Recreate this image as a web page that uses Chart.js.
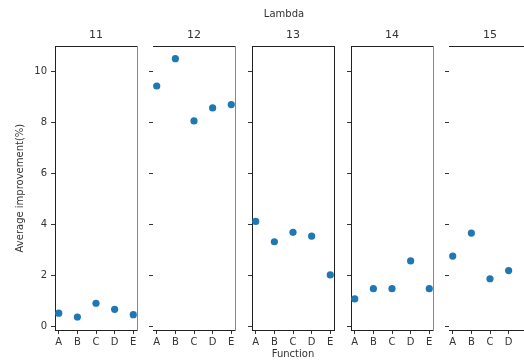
<!DOCTYPE html>
<html>
<head>
<meta charset="utf-8">
<script src="https://cdn.jsdelivr.net/npm/chart.js@4.4.1/dist/chart.umd.min.js"></script>
<style>
  html, body { margin: 0; padding: 0; background: #fff; overflow: hidden; }
  #wrap { position: relative; width: 524px; height: 360px; overflow: hidden; }
  .panel { position: absolute; top: 0; height: 360px; }
</style>
</head>
<body>
<div id="wrap"></div>
<script>
// Data
const lambdas = ['11', '12', '13', '14', '15'];
const functions = ['A', 'B', 'C', 'D', 'E'];
const yTicks = [0, 2, 4, 6, 8, 10];

const lambda11 = [0.53, 0.38, 0.92, 0.68, 0.47];
const lambda12 = [9.44, 10.51, 8.07, 8.58, 8.71];
const lambda13 = [4.13, 3.33, 3.70, 3.55, 2.03];
const lambda14 = [1.09, 1.49, 1.49, 2.58, 1.49];
const lambda15 = [2.77, 3.67, 1.88, 2.20];
const panelValues = [lambda11, lambda12, lambda13, lambda14, lambda15];

// Panel layout (plot area left edges, width)
const panelLeft = [55, 153, 252, 351, 449];
const panelWidth = 82;
const leftAxisW = [55, 10, 28, 10, 10];
const rightAxisW = [8, 8, 10, 8, 8];
const leftSpine = [true, false, true, true, false];
const rightSpine = ['dash', 'dash', 'solid', 'dash', 'none'];

Chart.defaults.font.family = 'DejaVu Sans';
Chart.defaults.font.size = 10;
Chart.defaults.color = '#333';

const wrap = document.getElementById('wrap');

lambdas.forEach((lam, i) => {
    const vals = panelValues[i];
    const lw = leftAxisW[i];
    const rw = rightAxisW[i];
    const div = document.createElement('div');
    div.className = 'panel';
    div.style.left = (panelLeft[i] - lw) + 'px';
    div.style.width = (lw + panelWidth + rw) + 'px';
    const canvas = document.createElement('canvas');
    canvas.width = lw + panelWidth + rw;
    canvas.height = 360;
    div.appendChild(canvas);
    wrap.appendChild(div);

    const middle = i === 2;

    new Chart(canvas, {
        type: 'scatter',
        data: {
            datasets: [{
                data: vals.map((v, j) => ({ x: j, y: v })),
                backgroundColor: '#1f77b4',
                borderColor: '#1f77b4',
                borderWidth: 0,
                pointRadius: 3.6,
                pointHoverRadius: 3.6
            }]
        },
        options: {
            responsive: false,
            animation: false,
            events: [],
            layout: { padding: 0 },
            plugins: {
                legend: { display: false },
                tooltip: { enabled: false },
                // the middle panel carries the figure title, its lambda goes in the subtitle
                title: {
                    display: true,
                    text: middle ? 'Lambda' : lam,
                    fullSize: middle,
                    color: '#333',
                    font: { size: middle ? 10 : 11, weight: 'normal' },
                    padding: middle ? { top: 8, bottom: 2 } : { top: 29, bottom: 4 }
                },
                subtitle: {
                    display: middle,
                    text: lam,
                    fullSize: false,
                    color: '#333',
                    font: { size: 11, weight: 'normal' },
                    padding: { top: 7, bottom: 4 }
                }
            },
            scales: {
                x: {
                    type: 'linear',
                    position: 'bottom',
                    min: -0.2,
                    max: 4.2,
                    afterBuildTicks: s => { s.ticks = vals.map((v, j) => ({ value: j })); },
                    afterFit: s => { s.height = 30; },
                    ticks: {
                        callback: v => functions[v],
                        autoSkip: false,
                        maxRotation: 0,
                        padding: 2,
                        color: '#333',
                        font: { size: 10 }
                    },
                    grid: { drawOnChartArea: false, tickLength: 4, color: '#333' },
                    border: { color: '#222', width: 1 },
                    title: {
                        display: middle,
                        text: 'Function',
                        color: '#333',
                        font: { size: 10 },
                        padding: { top: 0, bottom: 0 }
                    }
                },
                y: {
                    type: 'linear',
                    position: 'left',
                    min: -0.13,
                    max: 11,
                    afterBuildTicks: s => { s.ticks = yTicks.map(v => ({ value: v })); },
                    afterFit: s => { s.width = lw; },
                    ticks: { display: i === 0, padding: 4, color: '#333', font: { size: 10 } },
                    grid: { drawOnChartArea: false, tickLength: 4, color: '#333' },
                    border: { display: leftSpine[i], color: '#222', width: 1 },
                    title: {
                        display: i === 0,
                        text: 'Average improvement(%)',
                        color: '#333',
                        font: { size: 10 },
                        padding: { top: 14, bottom: 0 }
                    }
                },
                xTop: {
                    axis: 'x',
                    type: 'linear',
                    position: 'top',
                    min: -0.2,
                    max: 4.2,
                    afterFit: s => { s.height = 0; },
                    ticks: { display: false },
                    grid: { display: false },
                    border: { color: '#222', width: 1 }
                },
                yRight: {
                    axis: 'y',
                    type: 'linear',
                    position: 'right',
                    min: -0.13,
                    max: 11,
                    afterFit: s => { s.width = rw; },
                    ticks: { display: false },
                    grid: { display: false },
                    border: {
                        display: rightSpine[i] !== 'none',
                        color: rightSpine[i] === 'solid' ? '#222' : '#888',
                        dash: rightSpine[i] === 'dash' ? [1, 1] : [],
                        width: 1
                    }
                }
            }
        }
    });
});
</script>
</body>
</html>
